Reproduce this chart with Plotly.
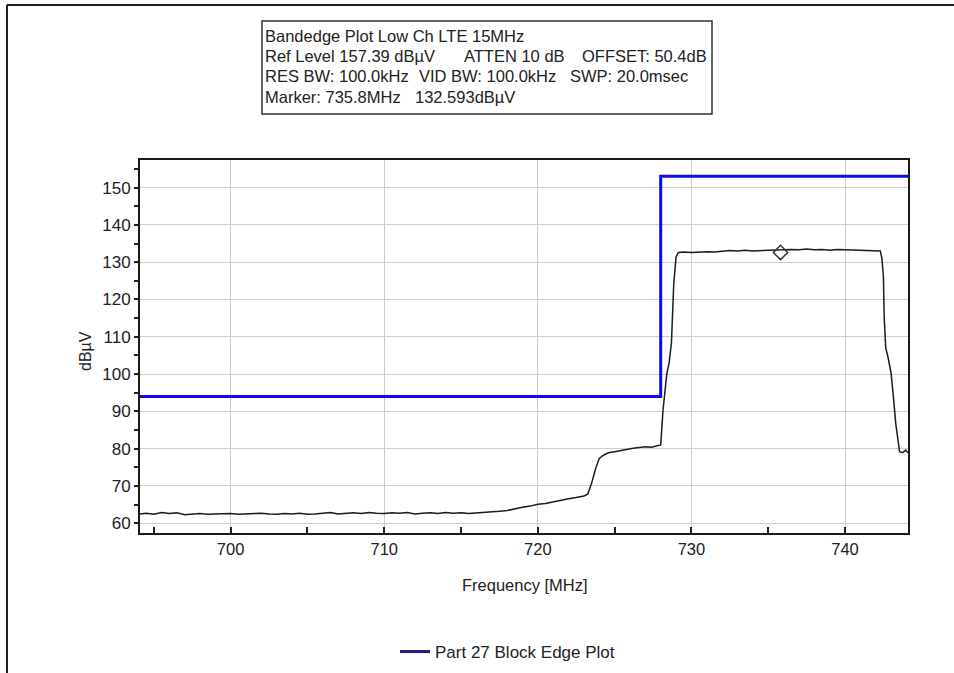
import plotly.graph_objects as go

# ---------------- data ----------------
freq_mhz = [
    694.1, 694.5, 695.0, 695.5, 696.0, 696.5, 697.0, 697.5, 698.0, 698.5,
    699.0, 699.5, 700.0, 700.5, 701.0, 701.5, 702.0, 702.5, 703.0, 703.5,
    704.0, 704.5, 705.0, 705.5, 706.0, 706.5, 707.0, 707.5, 708.0, 708.5,
    709.0, 709.5, 710.0, 710.5, 711.0, 711.5, 712.0, 712.5, 713.0, 713.5,
    714.0, 714.5, 715.0, 715.5, 716.0, 716.5, 717.0, 717.5, 718.0, 718.5,
    719.0, 719.5, 720.0, 720.5, 721.0, 721.5, 722.0, 722.5, 723.0, 723.25,
    723.5, 723.75, 724.0, 724.3, 724.6, 725.0, 725.4, 725.8, 726.2, 726.6,
    727.0, 727.4, 727.8, 728.0, 728.15, 728.3, 728.4, 728.55, 728.7, 728.85,
    729.0, 729.15, 729.5, 730.0, 730.5, 731.0, 731.5, 732.0, 732.5, 733.0,
    733.5, 734.0, 734.5, 735.0, 735.5, 736.0, 736.5, 737.0, 737.5, 738.0,
    738.5, 739.0, 739.5, 740.0, 740.5, 741.0, 741.5, 742.0, 742.3, 742.4,
    742.5, 742.55, 742.65, 742.8, 743.0, 743.15, 743.3, 743.45, 743.55, 743.75,
    743.95, 744.1,
]
level_dbuv = [
    62.5, 62.7, 62.4, 62.9, 62.6, 62.8, 62.3, 62.5, 62.6, 62.4,
    62.5, 62.6, 62.6, 62.4, 62.5, 62.5, 62.7, 62.5, 62.4, 62.6,
    62.5, 62.7, 62.4, 62.5, 62.6, 62.9, 62.5, 62.6, 62.8, 62.6,
    62.9, 62.7, 62.6, 62.8, 62.7, 62.9, 62.5, 62.7, 62.8, 62.6,
    62.9, 62.7, 62.8, 62.6, 62.7, 62.8, 63.0, 63.2, 63.4, 63.9,
    64.3, 64.6, 65.1, 65.3, 65.8, 66.1, 66.6, 66.9, 67.3, 67.8,
    70.7, 74.5, 77.4, 78.3, 78.9, 79.2, 79.5, 80.0, 80.1, 80.3,
    80.5, 80.4, 80.7, 81.0, 90.3, 96.5, 100.2, 103.0, 108.5, 124.3,
    131.4, 132.6, 132.7, 132.6, 132.7, 132.8, 132.7, 132.9, 133.1, 133.0,
    133.2, 133.0, 133.1, 133.2, 133.3, 133.2, 133.4, 133.3, 133.5, 133.3,
    133.4, 133.2, 133.4, 133.3, 133.2, 133.3, 133.2, 133.1, 133.0, 131.0,
    126.1, 115.3, 107.0, 104.5, 100.2, 93.9, 86.8, 82.3, 79.2, 78.9,
    79.6, 78.9,
]

limit_freq_mhz = [694.1, 728.0, 744.1]
limit_dbuv = [94.0, 153.0, 153.0]

marker_freq_mhz = [735.8]
marker_dbuv = [132.593]

legend_name = "Part 27 Block Edge Plot"

info_lines = [
    [("Bandedge Plot Low Ch LTE 15MHz", 263)],
    [("Ref Level 157.39 dBµV", 263), ("ATTEN 10 dB", 462), ("OFFSET: 50.4dB", 580)],
    [("RES BW: 100.0kHz", 263), ("VID BW: 100.0kHz", 417), ("SWP: 20.0msec", 568)],
    [("Marker: 735.8MHz", 263), ("132.593dBµV", 413)],
]
info_line_y = [36.5, 56.5, 76.5, 96.5]

x_range = [694.1, 744.1]
y_range = [57.39, 157.39]

# ---------------- layout geometry ----------------
W, H = 954, 673
L, R, T, B = 140, 908, 160, 533
FONT = "Liberation Sans, Arial, sans-serif"


def px(x):
    return (x - L) / (R - L)


def py(y):
    return (B - y) / (B - T)


fig = go.Figure()

fig.add_trace(go.Scatter(
    x=freq_mhz, y=level_dbuv, mode="lines",
    line=dict(color="#1c1c1c", width=1.5),
    showlegend=False, hoverinfo="x+y",
))
fig.add_trace(go.Scatter(
    x=limit_freq_mhz, y=limit_dbuv, mode="lines",
    line=dict(color="#0b0bf0", width=3, shape="hv"),
    showlegend=False,
))
fig.add_trace(go.Scatter(
    x=marker_freq_mhz, y=marker_dbuv, mode="markers",
    marker=dict(symbol="diamond-open", size=11, color="#333333",
                line=dict(width=1.5)),
    showlegend=False,
))
# legend entry for the limit line
fig.add_trace(go.Scatter(
    x=[None], y=[None], mode="lines", name=legend_name,
    line=dict(color="#1f1a86", width=3),
    showlegend=True,
))

annotations = []
for line, yc in zip(info_lines, info_line_y):
    for text, xl in line:
        annotations.append(dict(
            text=text, x=px(xl), y=py(yc), xref="paper", yref="paper",
            xanchor="left", yanchor="middle", showarrow=False,
            font=dict(family=FONT, size=16.5, color="#222222"),
        ))
annotations.append(dict(
    text="Frequency [MHz]", x=px(525), y=py(585), xref="paper", yref="paper",
    xanchor="center", yanchor="middle", showarrow=False,
    font=dict(family=FONT, size=16.5, color="#222222"),
))
annotations.append(dict(
    text="dBµV", x=px(85), y=py(351), xref="paper", yref="paper",
    xanchor="center", yanchor="middle", showarrow=False, textangle=-90,
    font=dict(family=FONT, size=16, color="#222222"),
))

shapes = [
    # info box
    dict(type="rect", xref="paper", yref="paper",
         x0=px(262), x1=px(712), y0=py(114), y1=py(21),
         line=dict(color="#333333", width=1.5), fillcolor="rgba(0,0,0,0)"),
    # outer frame (left and top edges)
    dict(type="line", xref="paper", yref="paper",
         x0=px(7), x1=px(7), y0=py(5), y1=py(680),
         line=dict(color="#222222", width=2)),
    dict(type="line", xref="paper", yref="paper",
         x0=px(7), x1=px(960), y0=py(5), y1=py(5),
         line=dict(color="#222222", width=2)),
]

fig.update_layout(
    width=W, height=H,
    margin=dict(l=L, r=W - R, t=T, b=H - B, pad=0, autoexpand=False),
    paper_bgcolor="white", plot_bgcolor="white",
    font=dict(family=FONT, size=16, color="#222222"),
    annotations=annotations, shapes=shapes,
    showlegend=True,
    legend=dict(orientation="h", x=px(395), y=py(652), xanchor="left",
                yanchor="middle", font=dict(family=FONT, size=17, color="#222222"),
                bgcolor="rgba(0,0,0,0)"),
    xaxis=dict(
        range=x_range, showgrid=True, gridcolor="#cdcdcd", gridwidth=1,
        tick0=700, dtick=10, ticks="inside", ticklen=6, tickwidth=1.5,
        tickcolor="#222222",
        minor=dict(tick0=695, dtick=5, ticks="inside", ticklen=6,
                   tickwidth=1.5, tickcolor="#222222", showgrid=False),
        showline=True, mirror=True, linecolor="#1a1a1a", linewidth=2,
        zeroline=False, tickfont=dict(family=FONT, size=16.5, color="#222222"),
    ),
    yaxis=dict(
        range=y_range, showgrid=True, gridcolor="#cdcdcd", gridwidth=1,
        tick0=60, dtick=10, ticks="outside", ticklen=4, tickwidth=1.5,
        tickcolor="#222222",
        minor=dict(tick0=55, dtick=5, ticks="outside", ticklen=4,
                   tickwidth=1.5, tickcolor="#222222", showgrid=False),
        showline=True, mirror=True, linecolor="#1a1a1a", linewidth=2,
        zeroline=False, tickfont=dict(family=FONT, size=17, color="#222222"),
    ),
    yaxis2=dict(
        range=y_range, overlaying="y", anchor="x", side="left",
        showgrid=False, showticklabels=False, zeroline=False,
        tick0=60, dtick=10, ticks="inside", ticklen=4, tickwidth=1.5,
        tickcolor="#222222",
        minor=dict(tick0=55, dtick=5, ticks="inside", ticklen=4,
                   tickwidth=1.5, tickcolor="#222222", showgrid=False),
        showline=False,
    ),
)

fig.write_html(
    "out.html",
    config={"displayModeBar": False},
    post_script="document.body.style.margin='0';document.body.style.overflow='hidden';",
)
